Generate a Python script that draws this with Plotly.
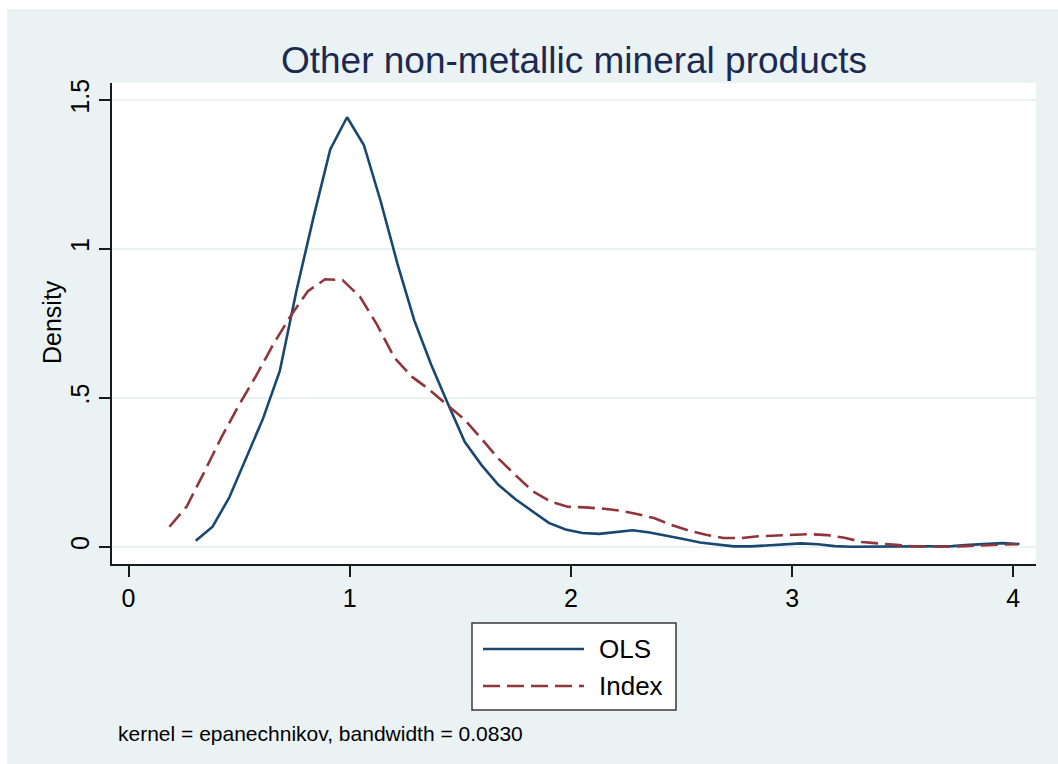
import plotly.graph_objects as go

# Kernel density estimates (epanechnikov, bandwidth = 0.0830), 50 evaluation points each
ols_x = [0.304, 0.380, 0.456, 0.532, 0.608, 0.684, 0.760, 0.836, 0.912, 0.988,
         1.064, 1.140, 1.216, 1.292, 1.368, 1.444, 1.520, 1.596, 1.672, 1.748,
         1.824, 1.900, 1.976, 2.052, 2.128, 2.204, 2.280, 2.356, 2.432, 2.508,
         2.584, 2.660, 2.736, 2.812, 2.888, 2.964, 3.040, 3.116, 3.192, 3.268,
         3.344, 3.420, 3.496, 3.572, 3.648, 3.724, 3.800, 3.876, 3.952, 4.028]
ols_y = [0.020, 0.067, 0.166, 0.300, 0.430, 0.590, 0.862, 1.105, 1.334, 1.442,
         1.349, 1.160, 0.950, 0.760, 0.612, 0.480, 0.352, 0.274, 0.208, 0.160,
         0.120, 0.080, 0.058, 0.046, 0.043, 0.048, 0.055, 0.048, 0.038, 0.026,
         0.014, 0.007, 0.001, 0.001, 0.005, 0.009, 0.011, 0.008, 0.002, 0.000,
         0.000, 0.000, 0.000, 0.001, 0.001, 0.002, 0.006, 0.010, 0.012, 0.009]

index_x = [0.185, 0.263, 0.342, 0.420, 0.498, 0.576, 0.655, 0.733, 0.811, 0.889,
           0.968, 1.046, 1.124, 1.202, 1.281, 1.359, 1.437, 1.515, 1.594, 1.672,
           1.750, 1.828, 1.907, 1.985, 2.063, 2.141, 2.220, 2.298, 2.376, 2.454,
           2.533, 2.611, 2.689, 2.767, 2.846, 2.924, 3.002, 3.080, 3.159, 3.237,
           3.315, 3.393, 3.471, 3.550, 3.628, 3.706, 3.784, 3.863, 3.941, 4.019]
index_y = [0.067, 0.135, 0.250, 0.367, 0.474, 0.573, 0.680, 0.775, 0.858, 0.898,
           0.895, 0.840, 0.745, 0.635, 0.571, 0.528, 0.478, 0.430, 0.364, 0.296,
           0.240, 0.186, 0.152, 0.134, 0.132, 0.128, 0.121, 0.110, 0.096, 0.073,
           0.054, 0.040, 0.029, 0.029, 0.035, 0.037, 0.040, 0.042, 0.039, 0.030,
           0.016, 0.010, 0.006, 0.001, 0.000, 0.000, 0.002, 0.005, 0.007, 0.008]

x_ticks = [0, 1, 2, 3, 4]
y_ticks = [0, 0.5, 1, 1.5]
y_tick_text = ["0", ".5", "1", "1.5"]

title_text = "Other non-metallic mineral products"
y_title = "Density"
note_text = "kernel = epanechnikov, bandwidth = 0.0830"

BLUE = "#1a476f"
RED = "#90353b"
BG = "#eaf2f3"
FONT = "Liberation Sans, Arial, sans-serif"
DASH = "17px,7px"

fig = go.Figure()
fig.add_trace(go.Scatter(x=ols_x, y=ols_y, mode="lines", name="OLS",
                         line=dict(color=BLUE, width=2.6)))
fig.add_trace(go.Scatter(x=index_x, y=index_y, mode="lines", name="Index",
                         line=dict(color=RED, width=2.6, dash=DASH)))

# Plot area geometry (px) used to place the legend box and notes in paper units
L, R, T, B = 112, 1036, 83, 564
W, H = R - L, B - T


def px(x):
    return (x - L) / W


def py(y):
    return (B - y) / H


shapes = [
    # white strips along the left and top edge of the canvas
    dict(type="rect", xref="paper", yref="paper", x0=px(0), x1=px(7),
         y0=py(764), y1=py(0), fillcolor="white", line=dict(width=0), layer="below"),
    dict(type="rect", xref="paper", yref="paper", x0=px(0), x1=px(1058),
         y0=py(9), y1=py(0), fillcolor="white", line=dict(width=0), layer="below"),
    # legend box
    dict(type="rect", xref="paper", yref="paper", x0=px(472), x1=px(676),
         y0=py(710), y1=py(623), fillcolor="white", line=dict(color="#3a3a3a", width=1.5)),
    dict(type="line", xref="paper", yref="paper", x0=px(483), x1=px(584),
         y0=py(649), y1=py(649), line=dict(color=BLUE, width=2.6)),
    dict(type="line", xref="paper", yref="paper", x0=px(483), x1=px(584),
         y0=py(686), y1=py(686), line=dict(color=RED, width=2.6, dash=DASH)),
]

annotations = [
    dict(text="OLS", xref="paper", yref="paper", x=px(597), y=py(649),
         xanchor="left", yanchor="middle", showarrow=False,
         font=dict(family=FONT, size=26, color="black")),
    dict(text="Index", xref="paper", yref="paper", x=px(597), y=py(686),
         xanchor="left", yanchor="middle", showarrow=False,
         font=dict(family=FONT, size=26, color="black")),
    dict(text=note_text, xref="paper", yref="paper", x=px(116), y=py(733),
         xanchor="left", yanchor="middle", showarrow=False,
         font=dict(family=FONT, size=21, color="black")),
    dict(text=y_title, xref="paper", yref="paper", x=px(52), y=py(322),
         xanchor="center", yanchor="middle", textangle=-90, showarrow=False,
         font=dict(family=FONT, size=25, color="black")),
]

fig.update_layout(
    width=1058, height=764,
    margin=dict(l=L, r=1058 - R, t=T, b=764 - B, autoexpand=False),
    paper_bgcolor=BG, plot_bgcolor="white",
    showlegend=False,
    title=dict(text=title_text, x=(L + R) / 2 / 1058, xanchor="center",
               y=1 - 60 / 764, yanchor="middle",
               font=dict(family=FONT, size=37, color="#1c2951")),
    shapes=shapes, annotations=annotations,
    font=dict(family=FONT, size=25, color="black"),
)

fig.update_xaxes(
    range=[(L - 128.5) / 221.2, (R - 128.5) / 221.2],
    tickvals=x_ticks, ticktext=[str(t) for t in x_ticks],
    showgrid=False, zeroline=False,
    showline=True, linecolor="#1a1a1a", linewidth=1.5,
    ticks="outside", ticklen=11, tickwidth=1.5, tickcolor="#1a1a1a",
    tickfont=dict(family=FONT, size=25, color="black"),
)
fig.update_yaxes(
    range=[(546.7 - B) / 297.8, (546.7 - T) / 297.8],
    tickvals=y_ticks, ticktext=y_tick_text, tickangle=-90,
    showgrid=True, gridcolor=BG, gridwidth=2.2, zeroline=False,
    showline=True, linecolor="#1a1a1a", linewidth=1.5,
    ticks="outside", ticklen=11, tickwidth=1.5, tickcolor="#1a1a1a",
    tickfont=dict(family=FONT, size=25, color="black"),
)

fig.write_html("out.html")
